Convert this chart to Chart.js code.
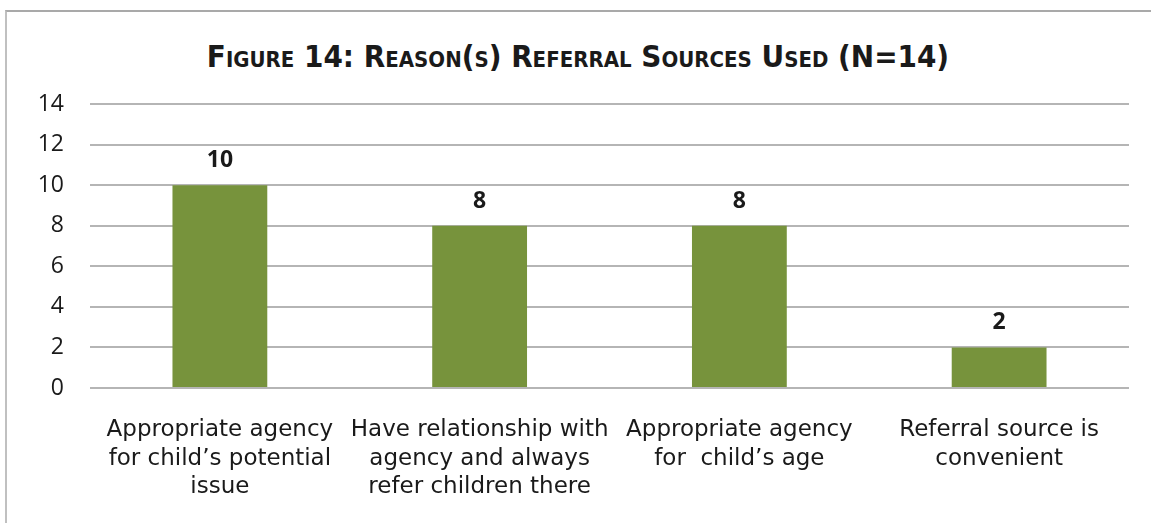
<!DOCTYPE html>
<html>
<head>
<meta charset="utf-8">
<script src="https://cdn.jsdelivr.net/npm/chart.js@4/dist/chart.umd.min.js"></script>
<style>
  body { margin: 0; background: #fff; }
  #wrap { position: relative; width: 1151px; height: 523px; overflow: hidden; }
  #frame { position: absolute; left: 5px; top: 10px; right: -5px; bottom: -5px;
           border-top: 2px solid #a9a9a9; border-left: 2px solid #c0c0c0; }
  #title { position: absolute; left: 5px; right: 0; top: 38px; text-align: center;
           font-family: "DejaVu Sans Condensed", sans-serif; font-stretch: condensed;
           font-weight: bold; font-size: 31px; font-variant: small-caps; color: #1a1a1a; }
  canvas { position: absolute; left: 0; top: 0; }
</style>
</head>
<body>
<div id="wrap">
  <div id="frame"></div>
  <div id="title">Figure 14: Reason(s) Referral Sources Used (N=14)</div>
  <canvas id="myChart" width="1151" height="523"></canvas>
</div>
<script>
const categorias = [
  ['Appropriate agency', 'for child\u2019s potential', 'issue'],
  ['Have relationship with', 'agency and always', 'refer children there'],
  ['Appropriate agency', 'for  child\u2019s age'],
  ['Referral source is', 'convenient']
]
const valores = [10, 8, 8, 2]
const yMax = 14
const yPaso = 2

// etiquetas de valor encima de cada barra
const etiquetas = {
  id: 'etiquetas',
  afterDatasetsDraw(chart) {
    const c = chart.ctx
    const meta = chart.getDatasetMeta(0)
    c.save()
    c.font = 'bold 23px "Open Sans", sans-serif'
    c.fillStyle = '#1a1a1a'
    c.textAlign = 'center'
    c.textBaseline = 'bottom'
    meta.data.forEach((bar, i) => {
      c.fillText(valores[i], bar.x, bar.y - 13)
    })
    c.restore()
  }
}

const ctx = document.getElementById('myChart')
const myChart = new Chart(ctx, {
  type: 'bar',
  data: {
    labels: categorias,
    datasets: [{
      data: valores,
      backgroundColor: '#77933C',
      barPercentage: 0.365,
      categoryPercentage: 1.0
    }]
  },
  options: {
    responsive: false,
    animation: false,
    layout: { padding: { top: 104, right: 22, left: 0, bottom: 0 } },
    plugins: {
      legend: { display: false },
      tooltip: { enabled: false }
    },
    scales: {
      x: {
        grid: { display: false, drawTicks: false },
        border: { display: false },
        ticks: {
          color: '#1a1a1a',
          padding: 28,
          maxRotation: 0,
          autoSkip: false,
          font: { family: 'DejaVu Sans', size: 23, lineHeight: 1.24 }
        },
        afterFit(scale) { scale.height = 523 - 388 }
      },
      y: {
        min: 0,
        max: yMax,
        grid: { color: '#b5b5b5', lineWidth: 2, drawTicks: false },
        border: { display: false },
        ticks: {
          stepSize: yPaso,
          color: '#1a1a1a',
          padding: 26,
          font: { family: 'Open Sans', size: 23 }
        },
        afterFit(scale) { scale.width = 90 }
      }
    }
  },
  plugins: [etiquetas]
});
</script>
</body>
</html>
